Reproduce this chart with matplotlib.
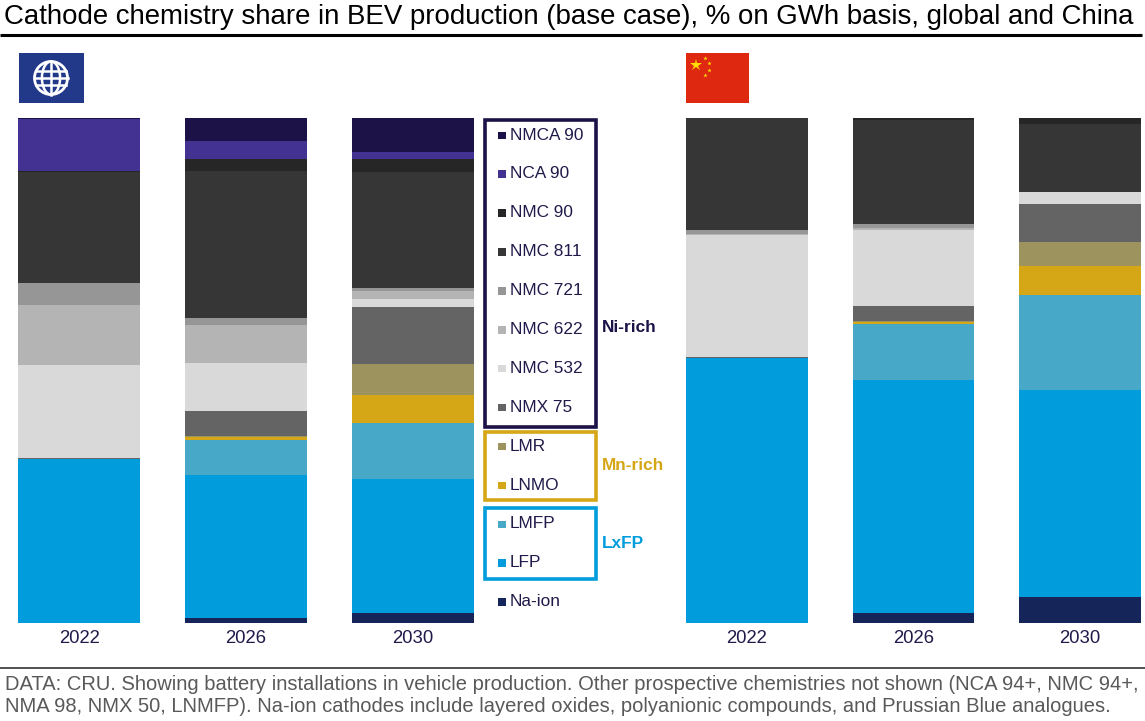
import matplotlib
matplotlib.use("Agg")
import matplotlib.pyplot as plt
from matplotlib.patches import Rectangle, Circle, Ellipse
import numpy as np

plt.rcParams['font.family'] = ['Liberation Sans', 'DejaVu Sans']

# ---------------- data ----------------
years = ["2022", "2026", "2030"]
chemistries = ["Na-ion", "LFP", "LMFP", "LNMO", "LMR", "NMX 75", "NMC 532",
               "NMC 622", "NMC 721", "NMC 811", "NMC 90", "NCA 90", "NMCA 90"]
colors = ["#15255a", "#009cdc", "#47a8c8", "#d5a616", "#9c935e", "#646464",
          "#d9d9d9", "#b4b4b4", "#969696", "#363636", "#262626", "#433292", "#1c1248"]

# shares (%) per chemistry, order of `chemistries`, one list per year
global_2022 = [0.0, 32.5, 0.0, 0.0, 0.0, 0.2, 18.3, 12.0, 4.4, 22.0, 0.2, 10.2, 0.2]
global_2026 = [1.0, 28.3, 6.9, 0.6, 0.3, 4.8, 9.5, 7.6, 1.4, 29.1, 2.3, 3.6, 4.6]
global_2030 = [1.9, 26.6, 11.2, 5.5, 6.0, 11.4, 1.6, 1.6, 0.6, 22.9, 2.5, 1.5, 6.7]
china_2022 = [0.0, 52.4, 0.0, 0.0, 0.0, 0.2, 24.2, 0.3, 0.7, 22.2, 0.0, 0.0, 0.0]
china_2026 = [1.9, 46.3, 11.1, 0.3, 0.2, 3.0, 15.1, 0.3, 0.8, 20.6, 0.4, 0.0, 0.0]
china_2030 = [5.2, 40.9, 18.9, 5.7, 4.8, 7.5, 2.4, 0.0, 0.0, 13.4, 1.2, 0.0, 0.0]

title = "Cathode chemistry share in BEV production (base case), % on GWh basis, global and China"
footer1 = ("DATA: CRU. Showing battery installations in vehicle production. Other prospective "
           "chemistries not shown (NCA 94+, NMC 94+,")
footer2 = ("NMA 98, NMX 50, LNMFP). Na-ion cathodes include layered oxides, polyanionic "
           "compounds, and Prussian Blue analogues.")

legend_order = ["NMCA 90", "NCA 90", "NMC 90", "NMC 811", "NMC 721", "NMC 622",
                "NMC 532", "NMX 75", "LMR", "LNMO", "LMFP", "LFP", "Na-ion"]

# ---------------- figure ----------------
W, H = 1145, 721
fig = plt.figure(figsize=(W / 100, H / 100), dpi=100)
navy_text = "#1f1a4a"


def px_axes(x0, x1, ytop, ybot):
    return fig.add_axes([x0 / W, 1 - ybot / H, (x1 - x0) / W, (ybot - ytop) / H])


def draw_panel(ax, data):
    x = np.arange(len(years))
    width = 122 / 167
    bottoms = np.zeros(len(years))
    arr = np.array(data)  # years x chemistries
    for j, chem in enumerate(chemistries):
        vals = arr[:, j]
        ax.bar(x, vals, width=width, bottom=bottoms, color=colors[j], linewidth=0)
        bottoms += vals
    ax.set_xlim(-width / 2, len(years) - 1 + width / 2)
    ax.set_ylim(0, 100)
    ax.set_xticks(x)
    ax.set_xticklabels(years, fontsize=13.3, color=navy_text)
    ax.tick_params(axis='x', length=0, pad=5)
    ax.set_yticks([])
    for s in ax.spines.values():
        s.set_visible(False)


ax1 = px_axes(18, 474, 118, 623)
draw_panel(ax1, [global_2022, global_2026, global_2030])
ax2 = px_axes(686, 1141, 118, 623)
draw_panel(ax2, [china_2022, china_2026, china_2030])

# overlay in pixel coordinates
ov = fig.add_axes([0, 0, 1, 1])
ov.set_xlim(0, W)
ov.set_ylim(H, 0)
ov.axis('off')

# title + rule
ov.text(4, 17, title, fontsize=19.9, color="black", va='center', ha='left')
ov.plot([0, 1142], [35, 35], color="black", lw=2.2, solid_capstyle='butt')

# footer
ov.plot([0, 1145], [668, 668], color="#222222", lw=1.1, solid_capstyle='butt')
ov.text(5, 684, footer1, fontsize=14.5, color="#595959", va='center', ha='left')
ov.text(5, 707, footer2, fontsize=14.5, color="#595959", va='center', ha='left')

# globe icon
ov.add_patch(Rectangle((19, 53), 65, 50, facecolor="#22398a", edgecolor='none'))
gc = (51, 78)
r = 16.5
ov.add_patch(Circle(gc, r, facecolor='none', edgecolor='white', lw=2))
ov.add_patch(Ellipse(gc, r * 1.1, 2 * r, facecolor='none', edgecolor='white', lw=1.8))
ov.plot([gc[0], gc[0]], [gc[1] - r, gc[1] + r], color='white', lw=1.8)
for dy in (-7, 0, 7):
    hw = np.sqrt(max(r ** 2 - dy ** 2, 0))
    ov.plot([gc[0] - hw, gc[0] + hw], [gc[1] + dy, gc[1] + dy], color='white', lw=1.8)

# China flag
ov.add_patch(Rectangle((686, 53), 63, 50, facecolor="#de2910", edgecolor='none'))
ov.plot([695.5], [64.5], marker='*', markersize=9, color="#ffde00", markeredgewidth=0)
for sx, sy in [(705, 57.5), (709, 62.5), (709, 70), (705, 74.5)]:
    ov.plot([sx], [sy], marker='*', markersize=3.2, color="#ffde00", markeredgewidth=0)

# legend
y0, dy = 135, 38.9
for i, name in enumerate(legend_order):
    y = y0 + i * dy
    c = colors[chemistries.index(name)]
    ov.add_patch(Rectangle((498, y - 3.5), 7.5, 7.5, facecolor=c, edgecolor='none'))
    ov.text(510, y, name, fontsize=12.4, color=navy_text, va='center', ha='left')

boxes = [(120, 427, "#1c1248", "Ni-rich", 327),
         (432, 500, "#d5a616", "Mn-rich", 465),
         (508, 579, "#009cdc", "LxFP", 544)]
for top, bot, c, lab, ly in boxes:
    ov.add_patch(Rectangle((484.5, top), 111, bot - top, facecolor='none', edgecolor=c, lw=2.6))
    ov.text(602, ly, lab, fontsize=12.4, fontweight='bold', color=c,
            va='center', ha='left')

fig.savefig("out.png", dpi=100)
